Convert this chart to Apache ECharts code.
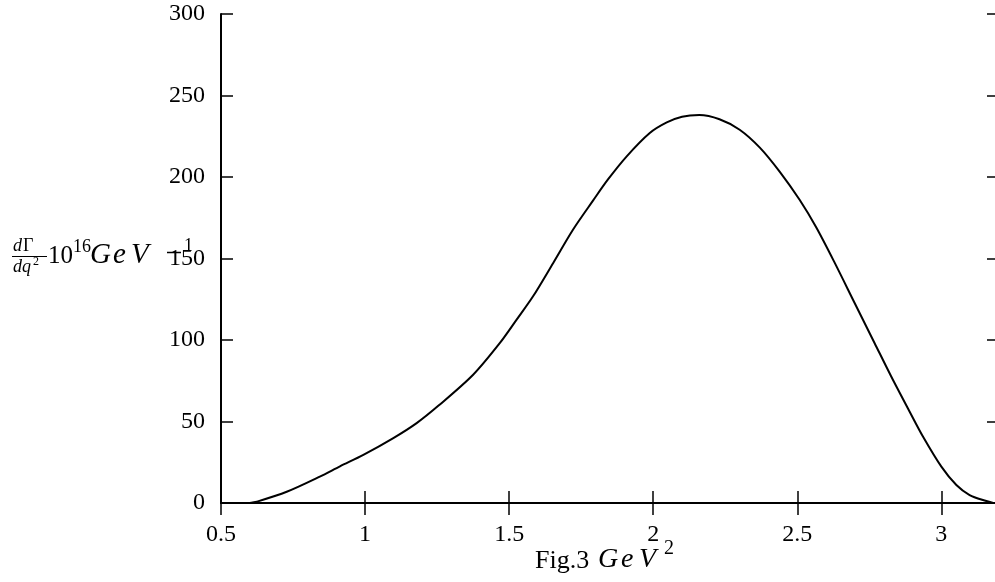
<!DOCTYPE html>
<html>
<head>
<meta charset="utf-8">
<script src="https://cdn.jsdelivr.net/npm/echarts@6/dist/echarts.min.js"></script>
<style>
  html, body { margin: 0; padding: 0; background: #fff; overflow: hidden; }
  #chart { width: 995px; height: 582px; }
</style>
</head>
<body>
<div id="chart"></div>
<script>
// q^2 in GeV^2 and dGamma/dq^2 (10^16 GeV^-1)
var q2 = [0.6, 0.624, 0.728, 0.843, 0.913, 0.994, 1.098, 1.179, 1.254, 1.375, 1.468, 1.526,
  1.583, 1.653, 1.722, 1.791, 1.843, 1.908, 1.988, 2.047, 2.10, 2.16, 2.23, 2.30, 2.37,
  2.44, 2.508, 2.566, 2.630, 2.699, 2.768, 2.826, 2.890, 2.936, 3.0, 3.052, 3.098, 3.156, 3.18]
var rate = [0, 0.8, 6.9, 16.2, 22.5, 29.5, 39.8, 49, 59.6, 78.7, 98.2, 112.5,
  126.8, 147.3, 167.8, 185.5, 198.5, 212.7, 227, 233.5, 237, 238, 235.4, 229, 218,
  203, 186, 169, 147.3, 122.7, 98.2, 77.6, 56, 40.8, 22.3, 11, 4.9, 1.2, 0]

var xTicks = [0.5, 1, 1.5, 2, 2.5, 3]
var yTicks = [0, 50, 100, 150, 200, 250, 300]

var serif = '"Liberation Serif", "DejaVu Serif", serif'

var chart = echarts.init(document.getElementById('chart'), null, { renderer: 'canvas' })

function axisBase(show) {
    return {
        axisLine: { show: true, lineStyle: { color: '#000', width: 2 } },
        axisTick: { show: true, inside: true, length: 12, lineStyle: { color: '#000', width: 1.5 } },
        splitLine: { show: false },
        axisLabel: {
            show: show,
            color: '#000',
            fontFamily: serif,
            fontSize: 24,
            showMaxLabel: false
        }
    }
}

var xBottom = Object.assign(axisBase(true), {
    type: 'value', position: 'bottom', min: 0.5, max: 3.2, interval: 0.5
})
xBottom.axisLabel.margin = 20
xBottom.axisLabel.formatter = function (v) {
    return xTicks.indexOf(+v.toFixed(2)) >= 0 ? String(v) : ''
}

var xTop = Object.assign(axisBase(false), {
    type: 'value', position: 'top', min: 0.5, max: 3.2, interval: 0.5
})

var yLeft = Object.assign(axisBase(true), {
    type: 'value', position: 'left', min: 0, max: 300, interval: 50
})
yLeft.axisLabel.margin = 16
yLeft.axisLabel.showMaxLabel = true
yLeft.axisLabel.formatter = function (v) {
    return yTicks.indexOf(v) >= 0 ? String(v) : ''
}

var yRight = Object.assign(axisBase(false), {
    type: 'value', position: 'right', min: 0, max: 300, interval: 50
})

function txt(left, top, text, font) {
    return { type: 'text', left: left, top: top, style: { text: text, font: font + ' ' + serif, fill: '#000' } }
}

var options = {
    backgroundColor: '#fff',
    animation: false,
    grid: { left: 221, top: 14, width: 778, height: 489, containLabel: false, outerBoundsMode: 'none' },
    xAxis: [xBottom, xTop],
    yAxis: [yLeft, yRight],
    series: [{
        type: 'line',
        xAxisIndex: 0,
        yAxisIndex: 0,
        data: q2.map(function (x, i) { return [x, rate[i]] }),
        smooth: 0.3,
        showSymbol: false,
        lineStyle: { color: '#000', width: 2 }
    }],
    graphic: [
        // y label: dGamma/dq^2 10^16 GeV^-1
        txt(13, 237, 'd', 'italic 18px'),
        txt(23, 237, 'Γ', '18px'),
        { type: 'line', shape: { x1: 12, y1: 256.5, x2: 47, y2: 256.5 }, style: { stroke: '#000', lineWidth: 1 } },
        txt(13, 258, 'dq', 'italic 18px'),
        txt(33, 256, '2', '12px'),
        txt(48, 244, '10', '25px'),
        txt(73, 238, '16', '18px'),
        txt(90, 241, 'G', 'italic 29px'),
        txt(113, 241, 'e', 'italic 29px'),
        txt(131, 241, 'V', 'italic 29px'),
        { type: 'line', shape: { x1: 167, y1: 252.5, x2: 181, y2: 252.5 }, style: { stroke: '#000', lineWidth: 1.5 } },
        txt(184, 237, '1', '18px'),
        // x label: Fig.3 GeV^2
        txt(535, 548, 'Fig.3', '26px'),
        txt(598, 546, 'G', 'italic 28px'),
        txt(621, 546, 'e', 'italic 28px'),
        txt(639, 546, 'V', 'italic 28px'),
        txt(664, 539, '2', '20px')
    ]
}

chart.setOption(options)
</script>
</body>
</html>
